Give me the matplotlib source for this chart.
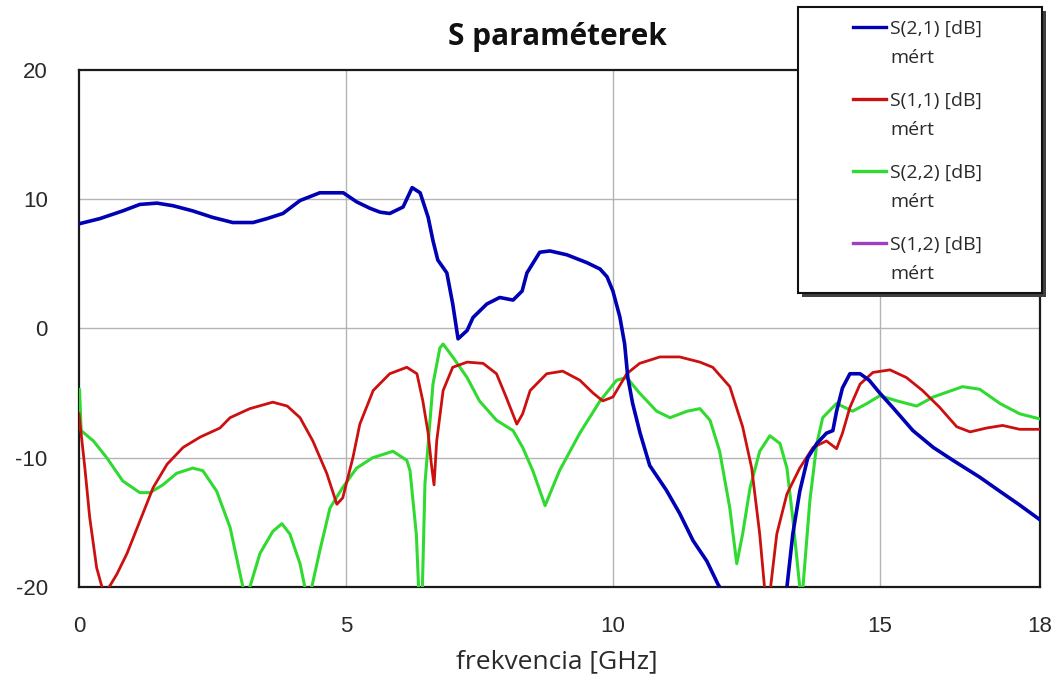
import matplotlib
matplotlib.use("Agg")
import matplotlib.pyplot as plt
from matplotlib.lines import Line2D
from matplotlib.patches import Rectangle

plt.rcParams["axes.unicode_minus"] = False

# Measured S-parameters (frequency in GHz, magnitude in dB)
s21_freq = [0, 0.39, 0.82, 1.14, 1.46, 1.76, 2.13, 2.5, 2.88, 3.26, 3.52, 3.82, 4.14,
            4.51, 4.76, 4.95, 5.2, 5.45, 5.64, 5.82, 6.07, 6.24, 6.39, 6.54, 6.63,
            6.72, 6.89, 7.0, 7.1, 7.27, 7.38, 7.64, 7.88, 8.13, 8.3, 8.39, 8.63, 8.82,
            9.14, 9.51, 9.76, 9.89, 10.0, 10.13, 10.22, 10.28, 10.37, 10.51, 10.69,
            11.0, 11.25, 11.5, 11.76, 11.97, 12.3, 12.8, 13.1, 13.26, 13.37, 13.5,
            13.65, 13.82, 14.0, 14.12, 14.19, 14.3, 14.44, 14.63, 14.8, 15.0, 15.24,
            15.62, 16.0, 16.37, 16.87, 17.25, 17.6, 18.0]
s21_db = [8.1, 8.5, 9.1, 9.6, 9.7, 9.5, 9.1, 8.6, 8.2, 8.2, 8.5, 8.9, 9.9,
          10.5, 10.5, 10.5, 9.8, 9.3, 9.0, 8.9, 9.4, 10.9, 10.5, 8.6, 6.8,
          5.3, 4.3, 1.9, -0.8, -0.15, 0.85, 1.9, 2.4, 2.2, 2.9, 4.3, 5.9, 6.0,
          5.7, 5.1, 4.6, 4.0, 2.9, 0.9, -1.2, -3.8, -5.8, -8.1, -10.6,
          -12.5, -14.3, -16.4, -18.0, -19.8, -22.0, -23.0, -22.0, -20.0, -15.9, -12.6,
          -10.0, -8.9, -8.1, -7.9, -6.4, -4.6, -3.5, -3.5, -4.0, -5.0, -6.1,
          -7.9, -9.2, -10.2, -11.5, -12.6, -13.6, -14.8]

s11_freq = [0, 0.11, 0.2, 0.33, 0.43, 0.5, 0.58, 0.71, 0.9, 1.14, 1.39, 1.65, 1.95,
            2.27, 2.64, 2.83, 3.2, 3.63, 3.9, 4.14, 4.38, 4.64, 4.83, 4.94, 5.13,
            5.26, 5.51, 5.82, 6.14, 6.33, 6.44, 6.54, 6.6, 6.65, 6.7, 6.82, 7.0,
            7.27, 7.57, 7.82, 8.0, 8.2, 8.31, 8.45, 8.76, 9.06, 9.38, 9.63, 9.81,
            10.0, 10.26, 10.5, 10.88, 11.25, 11.63, 11.87, 12.19, 12.43, 12.6, 12.75,
            12.85, 12.9, 12.94, 13.07, 13.26, 13.5, 13.75, 14.0, 14.19, 14.3, 14.44,
            14.63, 14.87, 15.19, 15.5, 15.8, 16.12, 16.44, 16.69, 17.0, 17.3, 17.62, 18.0]
s11_db = [-6.6, -10.8, -14.6, -18.5, -20.0, -20.3, -19.9, -19.0, -17.4, -14.9, -12.3, -10.5, -9.2,
          -8.4, -7.7, -6.9, -6.2, -5.7, -6.0, -6.9, -8.7, -11.2, -13.6, -13.1, -10.0,
          -7.4, -4.8, -3.5, -3.0, -3.5, -5.6, -8.1, -10.5, -12.1, -8.7, -4.8, -3.0,
          -2.6, -2.7, -3.5, -5.3, -7.4, -6.6, -4.8, -3.5, -3.3, -4.0, -5.0, -5.6,
          -5.3, -3.5, -2.7, -2.2, -2.2, -2.6, -3.0, -4.5, -7.6, -10.8, -15.9,
          -20.5, -22.0, -20.5, -15.9, -12.8, -10.8, -9.2, -8.7, -9.3, -8.1, -6.1,
          -4.3, -3.4, -3.2, -3.8, -4.8, -6.1, -7.6, -8.0, -7.7, -7.5, -7.8, -7.8]

s22_freq = [0, 0.01, 0.04, 0.27, 0.52, 0.82, 1.14, 1.33, 1.57, 1.83, 2.13, 2.32, 2.58,
            2.83, 3.07, 3.15, 3.2, 3.39, 3.63, 3.8, 3.95, 4.14, 4.23, 4.3, 4.36, 4.51,
            4.7, 4.94, 5.2, 5.5, 5.88, 6.14, 6.2, 6.32, 6.38, 6.42, 6.48, 6.63, 6.76,
            6.82, 7.0, 7.27, 7.5, 7.82, 8.13, 8.31, 8.5, 8.73, 9.0, 9.38, 9.76, 10.07,
            10.26, 10.5, 10.82, 11.07, 11.39, 11.63, 11.82, 12.0, 12.19, 12.32, 12.43,
            12.57, 12.75, 12.94, 13.13, 13.26, 13.37, 13.5, 13.53, 13.56, 13.69, 13.82,
            13.93, 14.19, 14.49, 14.76, 15.0, 15.32, 15.69, 16.0, 16.55, 16.87, 17.25,
            17.62, 18.0]
s22_db = [-7.0, -4.7, -7.9, -8.7, -10.0, -11.8, -12.7, -12.7, -12.1, -11.2, -10.8, -11.0, -12.6,
          -15.4, -20.0, -21.0, -20.0, -17.4, -15.7, -15.1, -15.9, -18.2, -20.0, -21.0, -20.0, -17.2,
          -13.9, -12.3, -10.8, -10.0, -9.5, -10.2, -11.0, -16.0, -22.0, -22.0, -12.0, -4.3, -1.5,
          -1.2, -2.2, -3.8, -5.6, -7.1, -7.9, -9.2, -11.0, -13.7, -11.0, -8.1, -5.6, -4.0,
          -3.8, -5.0, -6.4, -6.9, -6.4, -6.2, -7.1, -9.5, -13.9, -18.2, -15.9,
          -12.3, -9.5, -8.3, -8.9, -10.8, -14.7, -20.0, -22.0, -20.0, -13.3, -8.9,
          -6.9, -5.8, -6.4, -5.8, -5.2, -5.6, -6.0, -5.3, -4.5, -4.7, -5.8,
          -6.6, -7.0]

series_names = ["S(2,1) [dB]", "S(1,1) [dB]", "S(2,2) [dB]", "S(1,2) [dB]"]
series_note = "mért"
series_colors = ["#0000B4", "#CC1010", "#30DA30", "#A040C0"]

x_ticks = [0, 5, 10, 15, 18]
y_ticks = [-20, -10, 0, 10, 20]

W, H = 1060, 684
fig = plt.figure(figsize=(W / 100, H / 100), dpi=100)
ax = fig.add_axes([79 / W, 1 - 587 / H, (1040 - 79) / W, (587 - 70) / H])

ax.plot(s22_freq, s22_db, color=series_colors[2], lw=2.2, zorder=3)
ax.plot(s11_freq, s11_db, color=series_colors[1], lw=2.0, zorder=4)
ax.plot(s21_freq, s21_db, color=series_colors[0], lw=2.6, zorder=5)

ax.set_xlim(0, 18)
ax.set_ylim(-20, 20)
ax.set_xticks(x_ticks)
ax.set_yticks(y_ticks)
ax.tick_params(length=0, labelsize=16, labelcolor="#2a2a2a")
ax.tick_params(axis="x", pad=21)
ax.tick_params(axis="y", pad=22.5)
for lab in ax.get_xticklabels() + ax.get_yticklabels():
    lab.set_fontfamily("Liberation Sans")

# Grid lines at interior ticks only
for xv in x_ticks[1:-1]:
    ax.axvline(xv, color="#b4b4b4", lw=1.0, zorder=1)
for yv in y_ticks[1:-1]:
    ax.axhline(yv, color="#b4b4b4", lw=1.0, zorder=1)
for sp in ax.spines.values():
    sp.set_color("#1a1a1a")
    sp.set_linewidth(1.6)

fig.text(557 / W, 1 - 37 / H, "S paraméterek", ha="center", va="center",
         fontsize=21.5, fontweight="bold", family="Open Sans", color="#111111")
fig.text(557 / W, 1 - 662 / H, "frekvencia [GHz]", ha="center", va="center",
         fontsize=19, family="Open Sans", color="#2a2a2a")

# Legend box with drop shadow, drawn in figure coordinates
lx0, ly0, lx1, ly1 = 798, 7, 1042, 293
fig.patches.append(Rectangle(((lx0 + 4) / W, 1 - (ly1 + 4) / H), (lx1 - lx0) / W,
                             (ly1 - ly0) / H, transform=fig.transFigure,
                             facecolor="#404040", edgecolor="none", zorder=9))
fig.patches.append(Rectangle((lx0 / W, 1 - ly1 / H), (lx1 - lx0) / W, (ly1 - ly0) / H,
                             transform=fig.transFigure, facecolor="white",
                             edgecolor="#111111", lw=1.5, zorder=10))
for i, (name, col) in enumerate(zip(series_names, series_colors)):
    y_first = 27 + 72 * i
    fig.add_artist(Line2D([853 / W, 886 / W], [1 - y_first / H] * 2, color=col,
                          lw=2.4, transform=fig.transFigure, zorder=11))
    fig.text(890 / W, 1 - y_first / H, name, ha="left", va="center_baseline",
             fontsize=14, family="Open Sans", color="#2a2a2a", zorder=12)
    fig.text(890 / W, 1 - (y_first + 29) / H, series_note, ha="left",
             va="center_baseline", fontsize=14, family="Open Sans",
             color="#2a2a2a", zorder=12)

fig.savefig("out.png", dpi=100)
